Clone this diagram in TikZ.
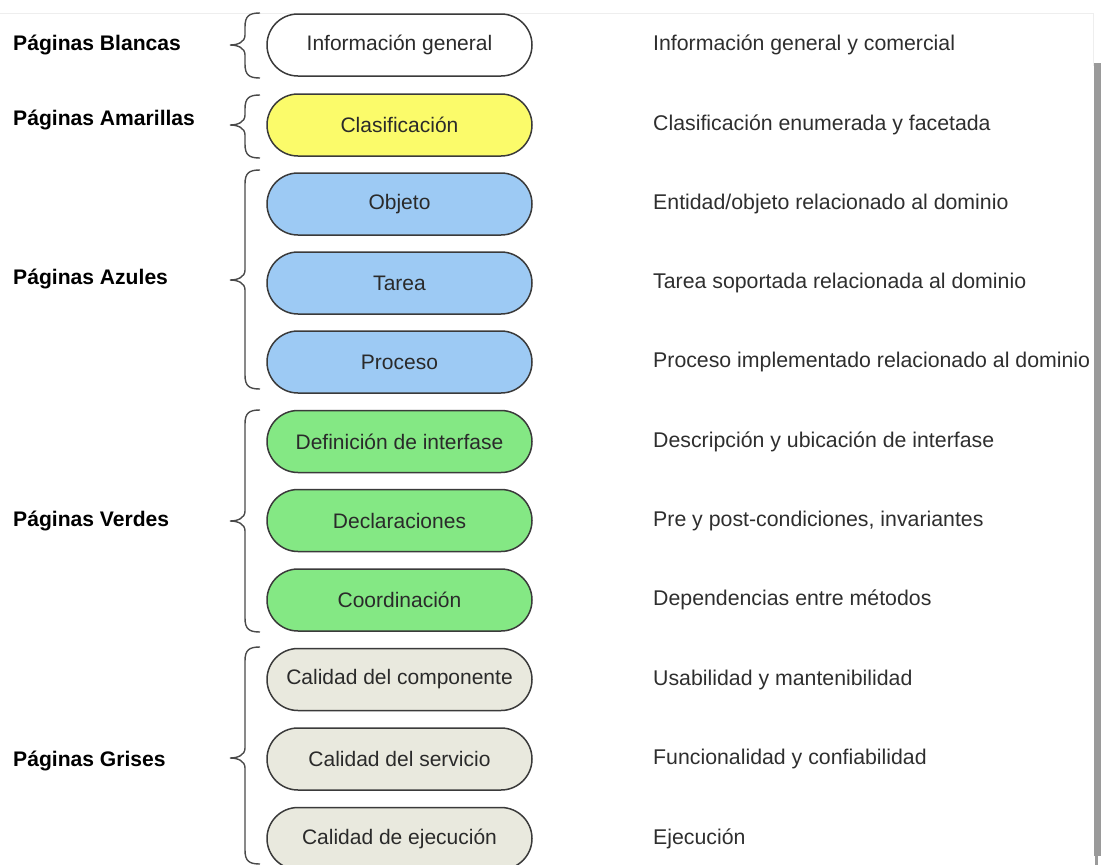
\documentclass[tikz,border=0pt]{standalone}
\usepackage{fontspec}
\setmainfont{Liberation Sans}
\definecolor{boxline}{HTML}{3A3A3A}
\definecolor{boxtext}{HTML}{2A2A2A}
\definecolor{desctext}{HTML}{2E2E2E}
\definecolor{bracecol}{HTML}{4A4A4A}
\definecolor{fillwhite}{HTML}{FFFFFF}
\definecolor{fillyellow}{HTML}{FBFB6A}
\definecolor{fillblue}{HTML}{9DCAF4}
\definecolor{fillgreen}{HTML}{84E884}
\definecolor{fillgrey}{HTML}{E9E9DE}
\definecolor{framegrey}{HTML}{9A9A9A}
\definecolor{framefaint}{HTML}{EEEEEE}
% curly brace from y=#1 to y=#3 with its tip at y=#2
\newcommand\pagebrace[3]{%
  \draw[bracestroke] (260,#1) .. controls (249,{#1}) and (245,{#1+3}) .. (245,{#1+14})
    -- (245,{#2-10}) .. controls (245,{#2-3}) and (238,{#2}) .. (230,{#2})
    .. controls (238,{#2}) and (245,{#2+3}) .. (245,{#2+10})
    -- (245,{#3-14}) .. controls (245,{#3-3}) and (249,{#3}) .. (260,{#3});}
\begin{document}
\begin{tikzpicture}[x=1pt,y=-1pt,
  pill/.style={draw=boxline, line width=1.5pt, rounded corners=31pt,
    minimum width=265pt, minimum height=62pt, inner sep=0pt,
    text=boxtext, font=\fontsize{21}{25}\selectfont},
  group/.style={anchor=west, text=black, inner sep=0pt,
    font=\bfseries\fontsize{21.1}{25}\selectfont},
  desc/.style={anchor=west, text=desctext, inner sep=0pt,
    font=\fontsize{21.3}{25}\selectfont},
  bracestroke/.style={draw=bracecol, line width=1.4pt}]
\useasboundingbox (0,0) rectangle (1101,865);

% page frame edges
\draw[framefaint, line width=1pt] (0,13) -- (1093,13) -- (1093,66);
\fill[framegrey] (1094,63) rectangle (1101,856);
\fill[framegrey] (1095,856) rectangle (1098,865);

% boxes
\node[pill, fill=fillwhite]  (b1)  at (399.5,45)    {Información general};
\node[pill, fill=fillyellow] (b2)  at (399.5,125)   {Clasificación};
\node[pill, fill=fillblue]   (b3)  at (399.5,204)   {Objeto};
\node[pill, fill=fillblue]   (b4)  at (399.5,283)   {Tarea};
\node[pill, fill=fillblue]   (b5)  at (399.5,362)   {Proceso};
\node[pill, fill=fillgreen]  (b6)  at (399.5,441.5) {Definición de interfase};
\node[pill, fill=fillgreen]  (b7)  at (399.5,520.5) {Declaraciones};
\node[pill, fill=fillgreen]  (b8)  at (399.5,600)   {Coordinación};
\node[pill, fill=fillgrey]   (b9)  at (399.5,679.5) {Calidad del componente};
\node[pill, fill=fillgrey]   (b10) at (399.5,759)   {Calidad del servicio};
\node[pill, fill=fillgrey]   (b11) at (399.5,838.5) {Calidad de ejecución};

% descriptions
\node[desc] (d1)  at (653,45)    {Información general y comercial};
\node[desc] (d2)  at (653,125)   {Clasificación enumerada y facetada};
\node[desc] (d3)  at (653,204)   {Entidad/objeto relacionado al dominio};
\node[desc] (d4)  at (653,283)   {Tarea soportada relacionada al dominio};
\node[desc] (d5)  at (653,362)   {Proceso implementado relacionado al dominio};
\node[desc] (d6)  at (653,441.5) {Descripción y ubicación de interfase};
\node[desc] (d7)  at (653,520.5) {Pre y post-condiciones, invariantes};
\node[desc] (d8)  at (653,600)   {Dependencias entre métodos};
\node[desc] (d9)  at (653,679.5) {Usabilidad y mantenibilidad};
\node[desc] (d10) at (653,759)   {Funcionalidad y confiabilidad};
\node[desc] (d11) at (653,838.5) {Ejecución};

% page groups
\node[group] (g1) at (13,45)  {Páginas Blancas};
\node[group] (g2) at (13,120) {Páginas Amarillas};
\node[group] (g3) at (13,279) {Páginas Azules};
\node[group] (g4) at (13,521) {Páginas Verdes};
\node[group] (g5) at (13,761) {Páginas Grises};

% braces
\pagebrace{13}{45}{78}
\pagebrace{95}{125}{158}
\pagebrace{170}{280}{389}
\pagebrace{410}{521}{632}
\pagebrace{647}{758}{864}
\end{tikzpicture}
\end{document}
